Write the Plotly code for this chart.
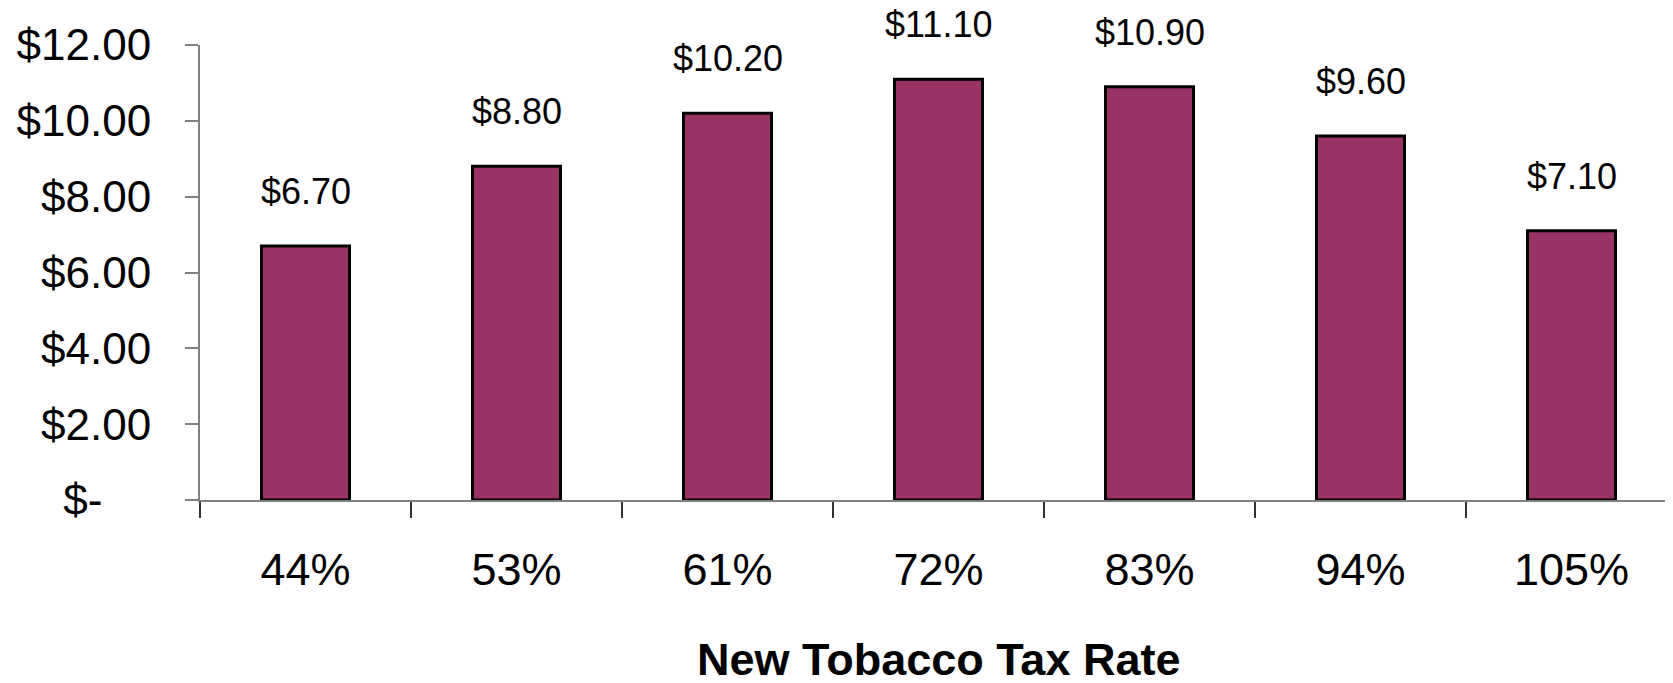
import plotly.graph_objects as go

categories = ["44%", "53%", "61%", "72%", "83%", "94%", "105%"]
values = [6.70, 8.80, 10.20, 11.10, 10.90, 9.60, 7.10]
value_labels = ["$6.70", "$8.80", "$10.20", "$11.10", "$10.90", "$9.60", "$7.10"]
y_tickvals = [0, 2, 4, 6, 8, 10, 12]
y_ticktext = ["$-\u00a0\u00a0\u00a0\u00a0", "$2.00", "$4.00", "$6.00", "$8.00", "$10.00", "$12.00"]
x_title = "New Tobacco Tax Rate"

FONT = "Liberation Sans, Arial, sans-serif"

fig = go.Figure()
fig.add_trace(go.Bar(
    x=categories, y=values,
    marker=dict(color="#993366", line=dict(color="#000000", width=3)),
    hoverinfo="skip",
))

for c, v, t in zip(categories, values, value_labels):
    fig.add_annotation(x=c, y=v, text=t, showarrow=False, xref="x", yref="y",
                       yanchor="bottom", yshift=32,
                       font=dict(family=FONT, size=36, color="#000000"))

fig.add_annotation(x=0.5, y=0, xref="paper", yref="paper", text="<b>" + x_title + "</b>",
                   showarrow=False, yanchor="top", yshift=-132,
                   font=dict(family=FONT, size=45, color="#000000"))

fig.update_layout(
    width=1669, height=675,
    margin=dict(l=192, r=0, t=37, b=183),
    paper_bgcolor="white", plot_bgcolor="white",
    bargap=0.583,
    showlegend=False,
    font=dict(family=FONT, color="#000000"),
)
fig.update_xaxes(
    type="category",
    tickson="boundaries", ticks="outside", ticklen=16, tickwidth=1.5, tickcolor="#333333",
    showline=True, linecolor="#808080", linewidth=2,
    showgrid=False, zeroline=False,
    tickfont=dict(family=FONT, size=45, color="#000000"),
    ticklabelstandoff=29,
)
fig.update_yaxes(
    range=[0, 12], tickvals=y_tickvals, ticktext=y_ticktext,
    ticks="outside", ticklen=13, tickwidth=1.5, tickcolor="#808080",
    showline=True, linecolor="#808080", linewidth=2,
    showgrid=False, zeroline=False,
    tickfont=dict(family=FONT, size=44, color="#000000"),
    ticklabelstandoff=25,
)

fig.write_html("out.html")
